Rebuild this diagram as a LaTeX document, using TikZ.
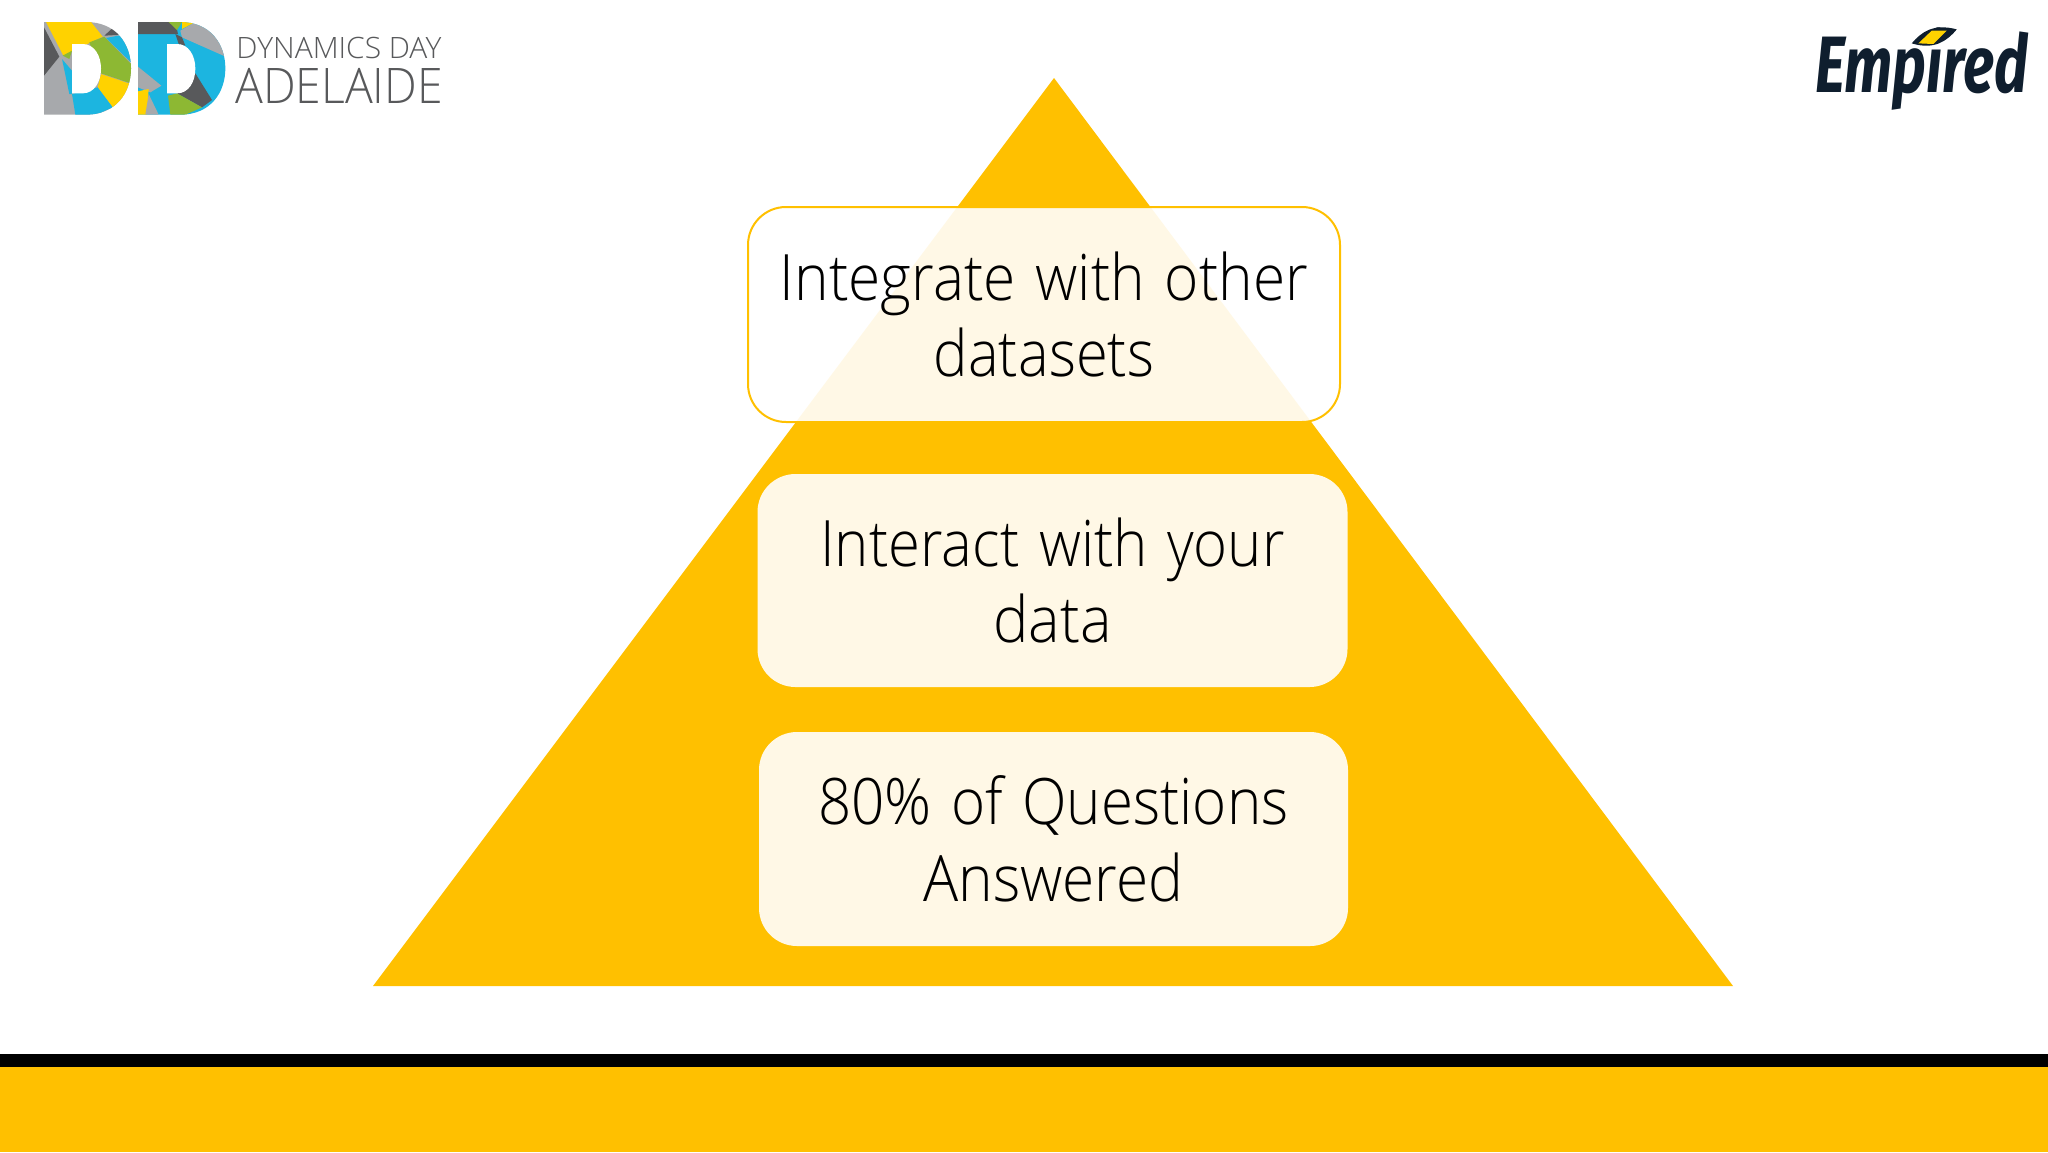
\documentclass[tikz,border=0pt]{standalone}
\usepackage{fontspec}
\setmainfont{Open Sans Light}
\newfontfamily\logofont{Fira Sans}
\definecolor{amber}{HTML}{FFC000}
\definecolor{ddgray}{HTML}{A7A9AC}
\definecolor{dddark}{HTML}{58595B}
\definecolor{ddcyan}{HTML}{1CB5E0}
\definecolor{ddgreen}{HTML}{8DB833}
\definecolor{ddyellow}{HTML}{FFD200}
\definecolor{empnavy}{HTML}{0F1E2E}
\tikzset{
  tier/.style={rounded corners=19pt,fill=white,fill opacity=.9,text opacity=1,inner sep=0pt,align=center,
    font=\fontsize{32}{38.3}\selectfont,text=black},
  brand/.style={inner sep=0pt,anchor=base west,text=dddark}
}
\begin{document}
\begin{tikzpicture}[x=.5pt,y=-.5pt]
\useasboundingbox (0,0) rectangle (2048,1152);
\fill[white] (0,0) rectangle (2048,1152);
\fill[amber] (1054,78) -- (1733,986) -- (373,986) -- cycle;
\fill[black] (0,1054) rectangle (2048,1067);
\fill[amber] (0,1067) rectangle (2048,1152);
\node[tier,draw=amber,line width=1pt,minimum width=296pt,minimum height=107.5pt,text width=296pt] (t1) at (1044,314.5) {\scalebox{.915}[1]{Integrate with other}\\\scalebox{.905}[1]{datasets}};
\node[tier,minimum width=295pt,minimum height=106.5pt,text width=295pt] (t2) at (1052.5,580.5) {\scalebox{.907}[1]{Interact with your}\\\scalebox{.93}[1]{data}};
\node[tier,minimum width=294.5pt,minimum height=107pt,text width=294.5pt] (t3) at (1053.5,839) {\scalebox{.91}[1]{80\% of Questions}\\\scalebox{.915}[1]{Answered}};
% DD logo, first letter
\begin{scope}[shift={(36,14)},x=.1667pt,y=-.1667pt]
\begin{scope}
\clip (24,24) -- (150,24) .. controls (240,24) and (285,90) .. (285,163) .. controls (285,236) and (240,302) .. (150,302) -- (24,302) -- cycle;
\fill[ddgray] (24,24) rectangle (290,302);
\fill[ddyellow] (30,24) -- (165,24) -- (200,68) -- (82,125) -- cycle;
\fill[dddark] (24,40) -- (70,128) -- (24,185) -- cycle;
\fill[ddgreen] (160,85) -- (205,68) -- (290,155) -- (290,210) -- (195,178) -- cycle;
\fill[ddgreen] (80,125) -- (108,110) -- (100,135) -- cycle;
\fill[ddcyan] (210,72) -- (262,62) -- (290,120) -- (290,150) -- cycle;
\fill[dddark] (205,65) -- (232,40) -- (262,62) -- cycle;
\fill[ddyellow] (195,180) -- (290,212) -- (270,255) -- (230,280) -- (185,220) -- cycle;
\fill[ddcyan] (108,240) -- (185,220) -- (230,280) -- (180,302) -- (118,302) -- cycle;
\fill[ddcyan] (78,135) -- (108,170) -- (108,240) -- (100,240) -- cycle;
\end{scope}
\fill[white] (108,90) -- (140,90) .. controls (175,90) and (195,125) .. (195,164) .. controls (195,203) and (175,238) .. (140,238) -- (108,238) -- cycle;
\end{scope}
% DD logo, second letter
\begin{scope}[shift={(132,14)},x=.1667pt,y=-.1667pt]
\begin{scope}
\clip (18,24) -- (145,24) .. controls (235,24) and (280,90) .. (280,163) .. controls (280,236) and (235,302) .. (145,302) -- (18,302) -- cycle;
\fill[ddcyan] (18,24) rectangle (290,302);
\fill[ddgray] (150,70) -- (145,50) -- (190,24) -- (240,24) -- (290,90) -- (290,132) -- cycle;
\fill[dddark] (18,24) -- (130,24) -- (138,60) -- (18,60) -- cycle;
\fill[ddgreen] (110,24) -- (150,24) -- (135,48) -- cycle;
\fill[ddyellow] (150,24) -- (190,24) -- (150,45) -- cycle;
\fill[dddark] (130,60) -- (150,70) -- (160,95) -- (140,90) -- cycle;
\fill[dddark] (190,178) -- (240,258) -- (210,280) -- (135,238) -- cycle;
\fill[ddgreen] (108,245) -- (135,238) -- (210,280) -- (160,302) -- (115,302) -- cycle;
\fill[ddgray] (18,158) -- (88,215) -- (55,235) -- (18,220) -- cycle;
\fill[ddyellow] (18,232) -- (50,225) -- (45,302) -- (18,302) -- cycle;
\fill[ddgray] (50,240) -- (80,302) -- (40,302) -- cycle;
\end{scope}
\fill[white] (105,90) -- (135,90) .. controls (170,90) and (190,125) .. (190,164) .. controls (190,203) and (170,238) .. (135,238) -- (105,238) -- cycle;
\end{scope}
\node[brand,font=\fontsize{14.7}{14.7}\selectfont] (dd1) at (236,58) {\scalebox{1.02}[1]{DYNAMICS DAY}};
\node[brand,font=\fontsize{24.5}{24.5}\selectfont] (dd2) at (235,103) {\scalebox{.945}[1]{ADELAIDE}};
% Empired logo
\node[inner sep=0pt,anchor=base west,text=empnavy,font=\logofont\bfseries\itshape\fontsize{40}{40}\selectfont] (emp) at (1815,92) {\scalebox{.724}[1]{Empired}};
\begin{scope}[shift={(1790,0)},x=.1667pt,y=-.1667pt]
\fill[empnavy] (365,130) .. controls (395,95) and (430,70) .. (500,88) .. controls (470,125) and (430,150) .. (365,130) -- cycle;
\fill[ddyellow] (385,130) -- (425,92) -- (470,92) -- (430,132) -- cycle;
\end{scope}
\end{tikzpicture}
\end{document}
